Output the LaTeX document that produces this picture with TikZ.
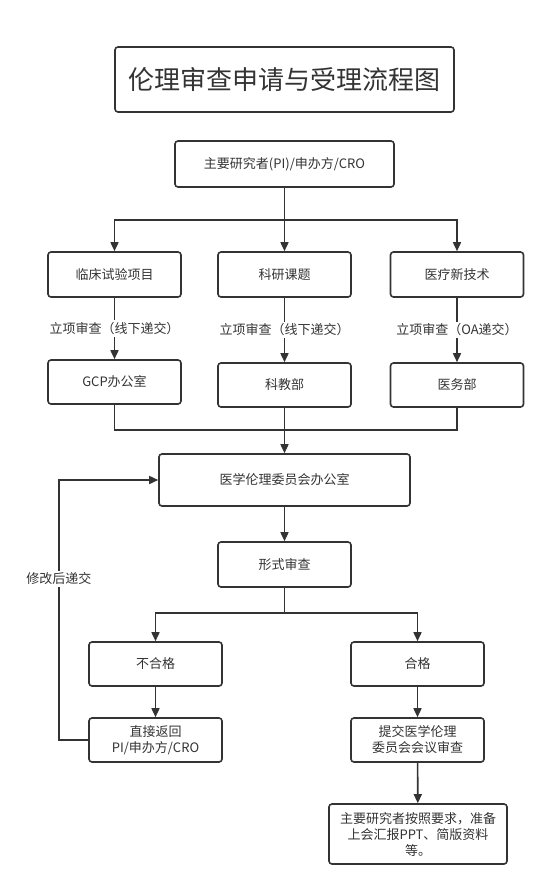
\documentclass[tikz,border=0pt]{standalone}
\usepackage{fontspec}
\setmainfont{Noto Sans CJK SC}
\usetikzlibrary{arrows.meta}
\definecolor{linegray}{RGB}{51,51,51}

\tikzset{
  box/.style={draw=linegray, line width=1.6pt, rounded corners=3pt, minimum width=133pt, minimum height=45pt, inner sep=2pt, align=center, text=linegray, font=\fontsize{13}{16}\selectfont},
  flow/.style={draw=linegray, line width=1.6pt, -{Triangle[length=9pt,width=8pt]}},
  plain/.style={draw=linegray, line width=1.6pt},
  lbl/.style={fill=white, inner sep=2pt, text=linegray, font=\fontsize{13}{16}\selectfont}
}

\begin{document}
\begin{tikzpicture}[x=1pt,y=1pt,yscale=-1]
  \useasboundingbox (0,0) rectangle (555,895);

  % Title
  \node [box, minimum width=339pt, minimum height=65pt, font=\fontsize{26}{30}\selectfont] (title) at (284.5,79.5) {伦理审查申请与受理流程图};

  % Applicant
  \node [box, minimum width=219pt, minimum height=46pt] (pi) at (284.5,164) {主要研究者(PI)/申办方/CRO};

  % Project types
  \node [box] (clinic) at (114.5,274.5) {临床试验项目};
  \node [box] (topic) at (284.5,274.5) {科研课题};
  \node [box] (newtech) at (457,274.5) {医疗新技术};

  % Departments
  \node [box, minimum height=44pt] (gcp) at (114.5,382) {GCP办公室};
  \node [box, minimum height=44pt] (edu) at (284.5,385) {科教部};
  \node [box, minimum height=44pt] (med) at (457,385) {医务部};

  % Ethics office
  \node [box, minimum width=251pt, minimum height=52pt] (office) at (284.5,480) {医学伦理委员会办公室};
  \node [box] (form) at (284.5,564.5) {形式审查};

  % Results
  \node [box, minimum height=44pt] (fail) at (155.5,664) {不合格};
  \node [box, minimum height=44pt] (pass) at (417.5,664) {合格};
  \node [box, minimum height=44pt] (return) at (155.5,740) {直接返回\\PI/申办方/CRO};
  \node [box, minimum height=44pt] (meeting) at (417.5,740) {提交医学伦理\\委员会会议审查};
  \node [box, minimum width=178pt, minimum height=60pt] (prepare) at (418,834) {主要研究者按照要求，准备\\上会汇报PPT、简版资料\\等。};

  % Junctions
  \coordinate (split) at (284.5,220);
  \coordinate (merge) at (284.5,430);
  \coordinate (check) at (284.5,613);
  \coordinate (back) at (59,0);

  % Connectors
  \draw [flow] (pi) -- (topic);
  \draw [flow] (split) -| (clinic.north);
  \draw [flow] (split) -| (newtech.north);

  \draw [flow] (clinic) -- node [lbl] {立项审查（线下递交）} (gcp);
  \draw [flow] (topic) -- node [lbl] {立项审查（线下递交）} (edu);
  \draw [flow] (newtech) -- node [lbl] {立项审查（OA递交）} (med);

  \draw [plain] (gcp.south) |- (merge);
  \draw [plain] (med.south) |- (merge);
  \draw [flow] (edu) -- (office);

  \draw [flow] (office) -- (form);
  \draw [plain] (form) -- (check);
  \draw [flow] (check) -| (fail.north);
  \draw [flow] (check) -| (pass.north);

  \draw [flow] (fail) -- (return);
  \draw [flow] (pass) -- (meeting);
  \draw [flow] (meeting) -- (prepare);

  \draw [flow] (return.west) -- (return.west -| back) |- node [lbl, pos=0.31] {修改后递交} (office.west);
\end{tikzpicture}
\end{document}
